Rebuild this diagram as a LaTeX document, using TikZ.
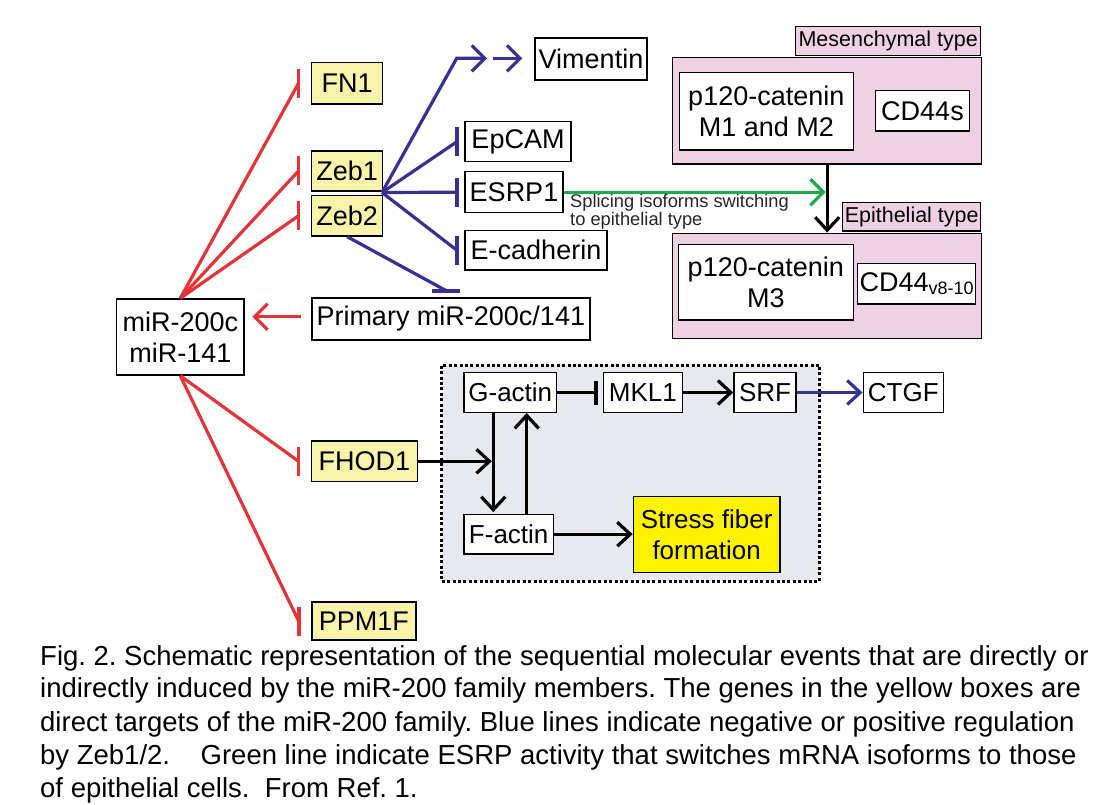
\documentclass[tikz,border=0pt]{standalone}
\usepackage{fontspec}
\setmainfont{Liberation Sans}
\usetikzlibrary{arrows.meta,calc}
\frenchspacing
\definecolor{rd}{RGB}{228,52,56}
\definecolor{bu}{RGB}{55,50,145}
\definecolor{gn}{RGB}{30,172,75}
\definecolor{lyel}{RGB}{247,243,168}
\definecolor{byel}{RGB}{255,242,0}
\definecolor{pnk}{RGB}{238,210,228}
\definecolor{gbg}{RGB}{232,233,238}
\tikzset{
  box/.style={draw=black, line width=1.5pt, fill=white, inner sep=0pt, align=center, font=\fontsize{27}{31.5}\selectfont},
  ybox/.style={box, fill=lyel},
  sbox/.style={box, font=\fontsize{26}{31.7}\selectfont},
  pbox/.style={draw=black, line width=1.5pt, fill=pnk, inner sep=0pt, font=\fontsize{21.5}{24}\selectfont},
  rl/.style={draw=rd, line width=3.2pt},
  bl/.style={draw=bu, line width=3.2pt},
  gl/.style={draw=gn, line width=3.2pt},
  kl/.style={draw=black, line width=3.2pt},
  barline/.style={line width=3.8pt, line cap=butt},
  arr/.style={-{Straight Barb[length=13pt,width=26pt]}},
  arrk/.style={-{Straight Barb[length=13pt,width=24pt]}},
  captxt/.style={anchor=base west, inner sep=0pt, font=\fontsize{27.5}{33}\selectfont}
}
\begin{document}
\begin{tikzpicture}[x=1pt,y=-1pt]
\useasboundingbox (0,0) rectangle (1096,805);
\fill[white] (0,0) rectangle (1096,805);

% left column
\node[ybox,minimum width=71,minimum height=41.7] (fn1) at (347.2,83.2) {FN1};
\node[ybox,minimum width=71,minimum height=40] (zeb1) at (347.2,171) {Zeb1};
\node[ybox,minimum width=71,minimum height=40.3] (zeb2) at (347.2,215.8) {Zeb2};
\node[box,minimum width=112,minimum height=42] (vim) at (591,59) {Vimentin};
\node[box,minimum width=106,minimum height=40] (epcam) at (518,141.7) {EpCAM};
\node[box,minimum width=98,minimum height=41] (esrp) at (514,192.2) {ESRP1};
\node[box,minimum width=142,minimum height=39.3] (ecad) at (536,250.3) {E-cadherin};
\node[box,minimum width=278,minimum height=42] (prim) at (450.8,319) {Primary miR-200c/141};
\node[box,minimum width=127.3,minimum height=76] (mir) at (180.3,337) {miR-200c\\miR-141};
\node[ybox,minimum width=105.6,minimum height=40.7] (fhod) at (364.5,461.3) {FHOD1};
\node[ybox,minimum width=104,minimum height=38] (ppm) at (363.8,621) {PPM1F};

% right panel
\node[pbox,minimum width=185,minimum height=29] (meslab) at (888.2,41.2) {Mesenchymal type};
\node[pbox,minimum width=309,minimum height=106.7] (mes) at (827.2,110.7) {};
\node[box,minimum width=174,minimum height=77.7] (p12a) at (766.3,111.2) {p120-catenin\\M1 and M2};
\node[box,minimum width=93.6,minimum height=40.3] (cd44s) at (922.5,110.8) {CD44s};
\node[pbox,minimum width=138,minimum height=28.3] (epilab) at (911.7,216.8) {Epithelial type};
\node[pbox,minimum width=309,minimum height=105] (epi) at (827.2,285.8) {};
\node[box,minimum width=175,minimum height=75.7] (p12b) at (765.8,282.2) {p120-catenin\\M3};
\node[box,minimum width=118,minimum height=40.7] (cd44v) at (916.7,283.7) {CD44\raisebox{-2.5pt}{\fontsize{18}{18}\selectfont v8-10}};

% dotted box
\node[draw=black, line width=3pt, dash pattern=on 3pt off 2.4pt, fill=gbg, inner sep=0pt, minimum width=377.6, minimum height=216] (dot) at (630.5,473) {};
\node[sbox,minimum width=92.7,minimum height=39.6] (gact) at (510.3,392.5) {G-actin};
\node[sbox,minimum width=79,minimum height=39.6] (mkl) at (642.8,392.5) {MKL1};
\node[sbox,minimum width=62,minimum height=39.6] (srf) at (765,392.5) {SRF};
\node[sbox,minimum width=80,minimum height=39.6] (ctgf) at (903.3,392.5) {CTGF};
\node[sbox,minimum width=89.3,minimum height=39.7] (fact) at (508.7,534.2) {F-actin};
\node[sbox,fill=byel,minimum width=146.7,minimum height=76] (stress) at (706.7,534.7) {Stress fiber\\formation};

% green label
\node[anchor=north west, inner sep=0pt, align=left, font=\fontsize{18.3}{15.3}\selectfont, text=black!85] (glab) at (570,193.6) {Splicing isoforms switching\\to epithelial type};

% red inhibitions from miR
\foreach \t in {fn1,zeb1,zeb2,fhod,ppm} {
  \coordinate (\t b) at ($(\t.west)+(-12.4,0)$);
}
\draw[rl] (mir.north) -- (fn1b);
\draw[rl] (mir.north) -- (zeb1b);
\draw[rl] (mir.north) -- (zeb2b);
\draw[rl] (mir.south) -- (fhodb);
\draw[rl] (mir.south) -- (ppmb);
\foreach \t in {fn1,zeb1,zeb2,fhod,ppm} {
  \draw[rl,barline] ($(\t b)+(0,-14.5)$) -- ($(\t b)+(0,14.5)$);
}
\coordinate (pa) at ($(prim.west)+(-10,-2.3)$);
\draw[rl,arr,shorten >=7.7pt] (pa) -- (pa -| mir.east);

% blue from Zeb1/2
\coordinate (zj) at (382,192.5);
\coordinate (vk) at (456.7,58.3);
\coordinate (va) at (487,58.3);
\coordinate (vb) at (493,58.3);
\draw[bl,arr] (zj) -- (vk) -- (va);
\draw[bl,arr,shorten >=12pt] (vb) -- (vb -| vim.west);
\foreach \t in {epcam,esrp,ecad} {
  \coordinate (\t b) at ($(\t.west)+(-7.3,0)$);
  \draw[bl] (zj) -- (\t b);
  \draw[bl,barline] ($(\t b)+(0,-14.5)$) -- ($(\t b)+(0,14.5)$);
}
\coordinate (pb) at ($(prim.north)+(-4.1,-6.3)$);
\draw[bl] (zeb2.south) -- (pb);
\draw[bl,barline] ($(pb)+(-15,0)$) -- ($(pb)+(13.3,0)$);

% right panel arrows
\draw[kl,arrk] (mes.south) -- (epi.north);
\draw[gl,arr,shorten >=1.5pt] (esrp.east) -- (esrp.east -| mes.south);

% actin module
\coordinate (mklb) at ($(mkl.west)+(-6.6,0)$);
\draw[kl] (gact.east) -- (mklb);
\draw[kl,barline] ($(mklb)+(0,-12)$) -- ($(mklb)+(0,12)$);
\draw[kl,arrk] (mkl.east) -- (srf.west);
\draw[bl,arrk] (srf.east) -- (ctgf.west);
\coordinate (dx) at (493.3,0);
\coordinate (ux) at (526.7,0);
\draw[kl,arrk,shorten >=1.5pt] (gact.south -| dx) -- (fact.north -| dx);
\draw[kl,arrk] (fact.north -| ux) -- (gact.south -| ux);
\draw[kl,arrk,shorten >=1.5pt] (fhod.east) -- (fhod.east -| dx);
\draw[kl,arrk] (fact.east) -- (fact.east -| stress.west);

% caption
\node[captxt] (c1) at (40,665) {Fig. 2. Schematic representation of the sequential molecular events that are directly or};
\node[captxt] (c2) at (40,697.8) {indirectly induced by the miR-200 family members. The genes in the yellow boxes are};
\node[captxt] (c3) at (40,731) {direct targets of the miR-200 family. Blue lines indicate negative or positive regulation};
\node[captxt] (c4) at (40,764.3) {by Zeb1/2.\ \ \ \ Green line indicate ESRP activity that switches mRNA isoforms to those};
\node[captxt] (c5) at (40,797.3) {of epithelial cells.\ \ From Ref. 1.};
\end{tikzpicture}
\end{document}
